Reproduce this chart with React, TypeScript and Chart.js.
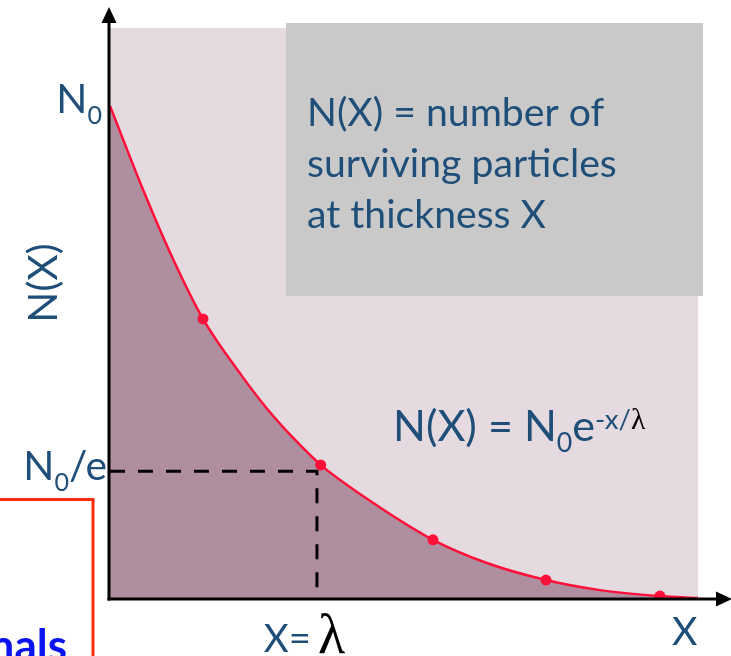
import React, { useEffect, useRef } from "react";
import { Chart, registerables } from "chart.js";

Chart.register(...registerables);

// Curve N(X) (x in units of lambda, y in units of N0)
const CURVE_X = [0, 0.159, 0.298, 0.447, 0.633, 0.753, 0.889, 1.013, 1.202, 1.553, 1.812, 2.096, 2.356, 2.644, 2.827];
const CURVE_Y = [1.0, 0.83, 0.694, 0.568, 0.453, 0.387, 0.323, 0.272, 0.213, 0.12, 0.073, 0.0385, 0.018, 0.006, 0.002];
// Marked points
const DOT_X = [0.447, 1.013, 1.553, 2.096, 2.644];
const DOT_Y = [0.568, 0.272, 0.12, 0.0385, 0.006];
// Reference values
const LAMBDA_X = 0.995;
const N0E_Y = 0.259;
const N0_Y = 1.0;
const X_MAX = 2.827;
const Y_MAX = 1.158;
const BOX_LINES = ["N(X) = number of", "surviving particles", "at thickness X"];

const BLUE = "#1F4E79";
const PINK = "#E4DAE0";
const FILL = "#AF8F9F";
const RED = "#FF1038";
const GRAY = "#C9C9C9";
const SANS = "Lato, 'Open Sans', sans-serif";
const SERIF = "'Liberation Serif', 'DejaVu Serif', serif";

type Run = { t: string; size: number; dy?: number; color?: string; family?: string; weight?: string };

function drawRuns(ctx: CanvasRenderingContext2D, x: number, y: number, runs: Run[], align: "left" | "right" = "left") {
  ctx.save();
  ctx.textAlign = "left";
  ctx.textBaseline = "alphabetic";
  const widths = runs.map((r) => {
    ctx.font = `${r.weight || "normal"} ${r.size}px ${r.family || SANS}`;
    return ctx.measureText(r.t).width;
  });
  const total = widths.reduce((a, b) => a + b, 0);
  let cx = align === "right" ? x - total : x;
  runs.forEach((r, i) => {
    ctx.font = `${r.weight || "normal"} ${r.size}px ${r.family || SANS}`;
    ctx.fillStyle = r.color || BLUE;
    ctx.fillText(r.t, cx, y + (r.dy || 0));
    cx += widths[i];
  });
  ctx.restore();
}

const bgPlugin = {
  id: "pinkBg",
  beforeDatasetsDraw(chart: any) {
    const { ctx, chartArea: a } = chart;
    ctx.save();
    ctx.fillStyle = PINK;
    ctx.fillRect(a.left, a.top, a.right - a.left, a.bottom - a.top);
    ctx.restore();
  },
};

const overlayPlugin = {
  id: "overlay",
  afterDraw(chart: any) {
    const { ctx } = chart;
    const xs = chart.scales.x;
    const ys = chart.scales.y;
    const x0 = xs.getPixelForValue(0) - 1;
    const y0 = ys.getPixelForValue(0);

    // font size fitted so that the box text has the reference width
    ctx.save();
    ctx.font = `40px ${SANS}`;
    const S = (40 * 310) / ctx.measureText(BOX_LINES[1]).width;
    ctx.restore();

    ctx.save();
    // axes
    ctx.strokeStyle = "#000";
    ctx.fillStyle = "#000";
    ctx.lineWidth = 3;
    ctx.beginPath();
    ctx.moveTo(x0, y0 + 1.5);
    ctx.lineTo(x0, 22);
    ctx.stroke();
    ctx.beginPath();
    ctx.moveTo(x0, 7);
    ctx.lineTo(x0 - 7.5, 23);
    ctx.lineTo(x0 + 7.5, 23);
    ctx.closePath();
    ctx.fill();
    ctx.beginPath();
    ctx.moveTo(x0 - 1.5, y0);
    ctx.lineTo(717, y0);
    ctx.stroke();
    ctx.beginPath();
    ctx.moveTo(732, y0);
    ctx.lineTo(716, y0 - 7.5);
    ctx.lineTo(716, y0 + 7.5);
    ctx.closePath();
    ctx.fill();

    // gray info box
    ctx.fillStyle = GRAY;
    ctx.fillRect(286, 23, 417, 273);
    ctx.restore();

    const bases = [126, 177, 228];
    BOX_LINES.forEach((line, i) => drawRuns(ctx, 307, bases[i], [{ t: line, size: S }]));

    // formula
    const F = S * 1.1;
    drawRuns(ctx, 393, 441, [
      { t: "N(X) = N", size: F },
      { t: "0", size: F * 0.62, dy: 11 },
      { t: "e", size: F },
      { t: "-x/", size: F * 0.64, dy: -12 },
      { t: "λ", size: 30, dy: -12, color: "#000", family: SERIF },
    ]);

    // y labels
    const yN0 = ys.getPixelForValue(N0_Y);
    drawRuns(ctx, 102, yN0 + 7, [
      { t: "N", size: S * 1.04 },
      { t: "0", size: S * 0.64, dy: 11 },
    ], "right");
    const yN0e = ys.getPixelForValue(N0E_Y);
    drawRuns(ctx, 107, yN0e + 9, [
      { t: "N", size: S * 1.04 },
      { t: "0", size: S * 0.64, dy: 11 },
      { t: "/e", size: S * 1.04 },
    ], "right");

    // rotated N(X)
    ctx.save();
    ctx.translate(57, 283);
    ctx.rotate(-Math.PI / 2);
    ctx.font = `${S * 1.04}px ${SANS}`;
    ctx.fillStyle = BLUE;
    ctx.textAlign = "center";
    ctx.textBaseline = "alphabetic";
    ctx.fillText("N(X)", 0, 0);
    ctx.restore();

    // x labels
    const xl = xs.getPixelForValue(LAMBDA_X);
    drawRuns(ctx, xl - 6, 652, [{ t: "X=", size: S * 0.98 }], "right");
    drawRuns(ctx, xl + 1, 653, [{ t: "λ", size: 56, color: "#000", family: SERIF }]);
    drawRuns(ctx, 672, 645, [{ t: "X", size: S * 1.0 }]);

    // partial red box with cut text at bottom-left
    ctx.save();
    ctx.strokeStyle = "#FF2A0A";
    ctx.lineWidth = 3;
    ctx.strokeRect(-10, 499.5, 103, 220);
    ctx.restore();
    drawRuns(ctx, 67, 661, [{ t: "nals", size: 44, color: "#0A14F0", weight: "bold" }], "right");
  },
};

export default function App() {
  const ref = useRef<HTMLCanvasElement>(null);
  useEffect(() => {
    document.body.style.margin = "0";
    const canvas = ref.current!;
    const chart = new Chart(canvas, {
      type: "line",
      data: {
        datasets: [
          {
            label: "N(X)",
            data: CURVE_X.map((x, i) => ({ x, y: CURVE_Y[i] })),
            borderColor: RED,
            backgroundColor: FILL,
            borderWidth: 2.5,
            fill: "origin",
            pointRadius: 0,
            cubicInterpolationMode: "monotone",
            order: 3,
          },
          {
            label: "N0/e guide",
            data: [
              { x: 0, y: N0E_Y },
              { x: LAMBDA_X, y: N0E_Y },
              { x: LAMBDA_X, y: 0 },
            ],
            borderColor: "#000",
            borderWidth: 3,
            borderDash: [15, 13],
            fill: false,
            pointRadius: 0,
            tension: 0,
            order: 2,
          },
          {
            label: "points",
            data: DOT_X.map((x, i) => ({ x, y: DOT_Y[i] })),
            showLine: false,
            pointRadius: 5.5,
            pointBackgroundColor: RED,
            pointBorderWidth: 0,
            borderColor: RED,
            fill: false,
            order: 1,
          },
        ],
      },
      options: {
        responsive: false,
        animation: false,
        events: [],
        layout: { padding: { left: 110, right: 33, top: 28, bottom: 57 } },
        plugins: { legend: { display: false }, tooltip: { enabled: false }, title: { display: false } },
        scales: {
          x: { type: "linear", min: 0, max: X_MAX, display: false },
          y: { type: "linear", min: 0, max: Y_MAX, display: false },
        },
      },
      plugins: [bgPlugin, overlayPlugin],
    } as any);
    return () => chart.destroy();
  }, []);
  return (
    <div style={{ width: 731, height: 656, background: "#fff" }}>
      <canvas ref={ref} width={731} height={656} style={{ display: "block" }} />
    </div>
  );
}
